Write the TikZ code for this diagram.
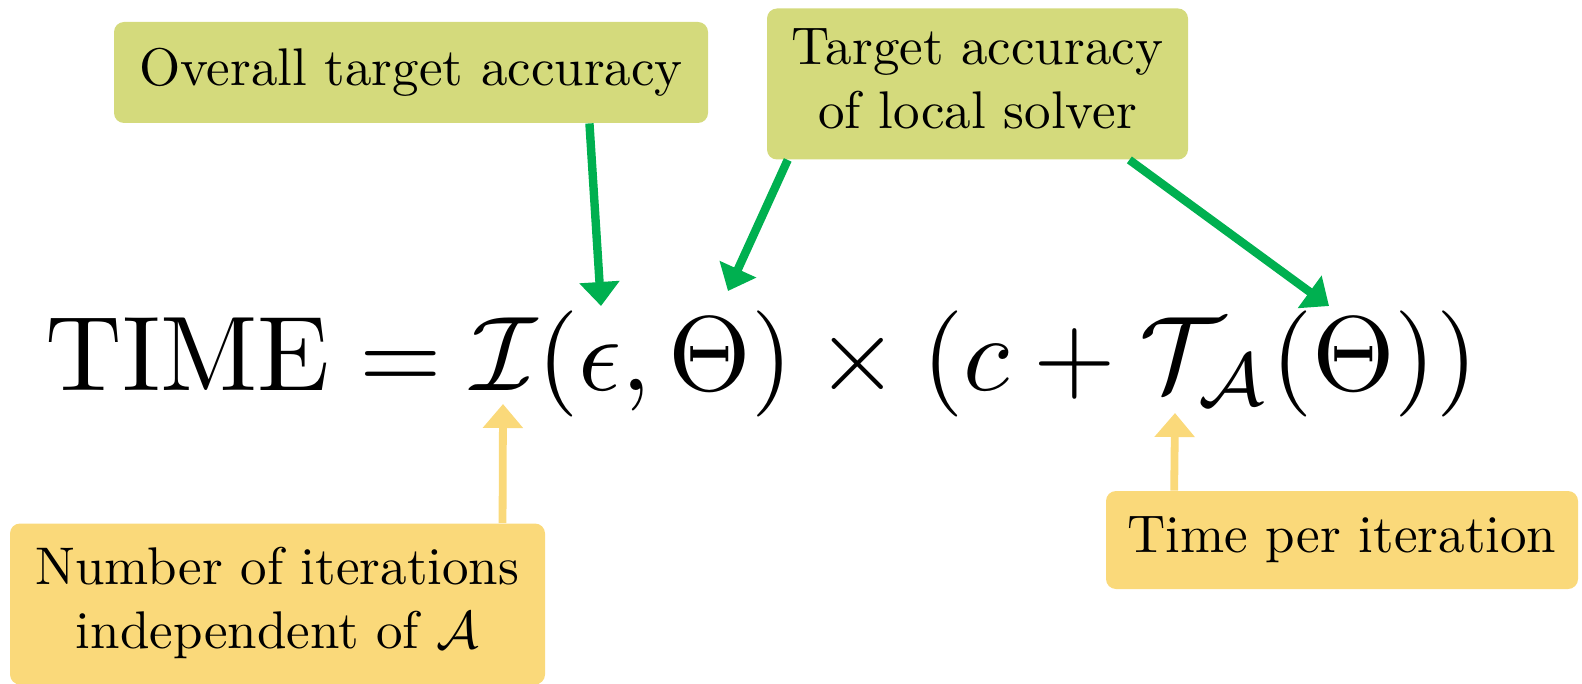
\documentclass[tikz,border=0pt]{standalone}
\usepackage{amsmath}
\usepackage{amssymb}
\usepackage{graphicx}
\usepackage{xcolor}
\definecolor{olivebox}{RGB}{212,218,124}
\definecolor{sandbox}{RGB}{250,217,122}
\definecolor{arrowgreen}{RGB}{0,176,80}
\usepackage{tikz}
\usetikzlibrary{arrows.meta,positioning,calc}
\newcommand{\boxtext}[1]{\scalebox{2.65}{\begin{tabular}{@{}c@{}}#1\end{tabular}}}

\begin{document}
\begin{tikzpicture}[x=0.5pt,y=-0.5pt]
		\tikzstyle{notebox}=[rectangle,rounded corners=5pt,inner sep=0pt,align=center]
		\tikzstyle{greenbox}=[notebox,fill=olivebox]
		\tikzstyle{yellowbox}=[notebox,fill=sandbox]
		\tikzstyle{greenarrow}=[-{Triangle[width=19.5pt,length=12pt]},line width=4.2pt,arrowgreen]
		\tikzstyle{yellowarrow}=[-{Triangle[width=19.5pt,length=12pt]},line width=3.9pt,sandbox]
		\useasboundingbox (0,0) rectangle (1582,684);
		% the formula
		\node[anchor=base west,inner sep=0pt] (formula) at (45,390)
		{\scalebox{5.31}{$\mathrm{TIME} = \mathcal{I}(\epsilon, \Theta) \times (c + \mathcal{T}_{\mathcal{A}}(\Theta))$}};
		\coordinate (eps)   at (601,306);
		\coordinate (theta) at (728,291);
		\coordinate (tcal)  at (1329,306);
		\coordinate (ical)  at (503,404);
		\coordinate (tsub)  at (1175,413);
		% callouts
		\node[greenbox,minimum width=297pt,minimum height=50.5pt] (overall) at (411,72.5)
		{\boxtext{Overall target accuracy}};
		\node[greenbox,minimum width=210.5pt,minimum height=75.5pt] (local) at (977.5,84)
		{\boxtext{Target accuracy\\of local solver}};
		\node[yellowbox,minimum width=267.5pt,minimum height=80.5pt] (iters) at (277.5,604)
		{\boxtext{Number of iterations\\independent of $\mathcal{A}$}};
		\node[yellowbox,minimum width=236pt,minimum height=49pt] (periter) at (1342,540)
		{\boxtext{Time per iteration}};
		\draw[greenarrow] ($(overall.south west)!.8!(overall.south east)$) -- (eps);
		\draw[greenarrow] ($(local.south west)!.05!(local.south east)$) -- (theta);
		\draw[greenarrow] ($(local.south west)!.86!(local.south east)$) -- (tcal);
		\draw[yellowarrow] ($(iters.north west)!.92!(iters.north east)$) -- (ical);
		\draw[yellowarrow] ($(periter.north west)!.145!(periter.north east)$) -- (tsub);
	\end{tikzpicture}
\end{document}
